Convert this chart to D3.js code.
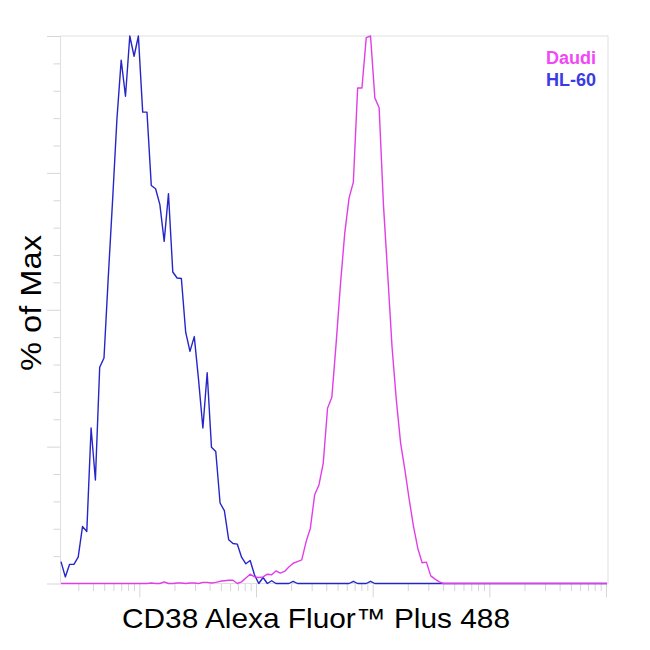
<!DOCTYPE html>
<html>
<head>
<meta charset="utf-8">
<script src="https://cdnjs.cloudflare.com/ajax/libs/d3/7.8.5/d3.min.js"></script>
<style>
  body { margin: 0; background: #fff; }
  text { font-family: "Liberation Sans", Arial, sans-serif; }
</style>
</head>
<body>
<div id="histo"></div>
<script>
// % of max per channel, 128 log-spaced channels
var hl60 = [4.0, 1.2, 3.5, 3.5, 4.8, 10.4, 9.5, 28.4, 18.9, 39.5,
            41.2, 56.0, 70.0, 84.7, 95.6, 89.0, 100, 96.3, 100, 86.1,
            86.1, 72.7, 72.1, 69.2, 62.5, 71.2, 56.9, 55.8, 55.7, 45.9,
            42.4, 45.1, 37.2, 28.4, 38.5, 24.9, 24.1, 14.7, 13.3, 8.0,
            7.3, 7.2, 4.8, 3.6, 4.2, 1.6, 0, 1.1, 0, 0.5,
            0, 0, 0, 0, 0.4, 0, 0, 0, 0, 0,
            0, 0, 0, 0, 0, 0, 0, 0, 0.4, 0,
            0, 0, 0.4, 0, 0, 0, 0, 0, 0, 0,
            0, 0, 0, 0, 0, 0, 0, 0, 0, 0,
            0, 0, 0, 0, 0, 0, 0, 0, 0, 0,
            0, 0, 0, 0, 0, 0, 0, 0, 0, 0,
            0, 0, 0, 0, 0, 0, 0, 0, 0, 0,
            0, 0, 0, 0, 0, 0, 0, 0];

var daudi = [0, 0, 0, 0, 0, 0, 0, 0, 0, 0,
             0, 0, 0, 0, 0, 0, 0, 0, 0, 0,
             0, 0.1, 0, 0, 0.3, 0, 0, 0.1, 0.1, 0,
             0.1, 0.1, 0, 0.2, 0.2, 0.1, 0.2, 0.4, 0.5, 0.6,
             0.6, 0, 0.3, 1.0, 1.7, 1.2, 1.1, 1.2, 1.7, 1.6,
             2.3, 1.9, 2.2, 3.0, 3.7, 4.0, 4.3, 7.6, 10.1, 16.2,
             18.0, 22.0, 32.0, 34.0, 43.9, 54.6, 64.0, 70.4, 73.3, 90.5,
             90.5, 99.7, 100, 88.7, 86.9, 69.2, 56.4, 43.2, 33.5, 25.6,
             20.7, 15.3, 10.4, 6.4, 3.8, 3.9, 1.4, 0.8, 0.3, 0,
             0, 0, 0, 0, 0, 0, 0, 0, 0, 0,
             0, 0, 0, 0, 0, 0, 0, 0, 0, 0,
             0, 0, 0, 0, 0, 0, 0, 0, 0, 0,
             0, 0, 0, 0, 0, 0, 0, 0];

var seriesNames = ["Daudi", "HL-60"];
var lineColors = ["#e03ee8", "#2626c8"];
var legendColors = ["#f247f5", "#3a3ae6"];

var xDomain = [21.1, 1.04e6];
var yTicks = d3.range(0, 101, 5);

var margin = {top: 36, right: 42, bottom: 66.5, left: 60.5};
var fullWidth = 650;
var fullHeight = 650;
var width = fullWidth - margin.left - margin.right;
var height = fullHeight - margin.top - margin.bottom;

var svg = d3.select("#histo").append("svg")
            .attr("width", fullWidth)
            .attr("height", fullHeight);
var g = svg.append("g").attr("transform", "translate(" + margin.left + "," + margin.top + ")");

var xScale = d3.scaleLog().domain(xDomain).range([0, width]);
var chan = d3.scaleLinear().domain([0, hl60.length - 1]).range([0.5, width - 1]);
var yScale = d3.scaleLinear().domain([0, 100]).range([height, 0]);

// log ticks 1..9 x 10^k inside the domain
var xTickVals = [];
for (var k = 1; k <= 6; k++) {
  for (var m = 1; m <= 9; m++) {
    var v = m * Math.pow(10, k);
    if (v >= xDomain[0] && v <= xDomain[1]) xTickVals.push(v);
  }
}

var xAxis = d3.axisBottom(xScale).tickValues(xTickVals).tickFormat("").tickSizeOuter(0);
var yAxis = d3.axisLeft(yScale).tickValues(yTicks).tickFormat("").tickSizeOuter(0);

var xg = g.append("g").attr("transform", "translate(0," + height + ")").call(xAxis);
xg.select(".domain").remove();
xg.selectAll(".tick line")
  .attr("stroke", "#d6d6d6")
  .attr("y2", function(d){
    var e = Math.log10(d);
    return Math.abs(e - Math.round(e)) < 1e-9 ? 14 : 7.5;
  });

var yg = g.append("g").call(yAxis);
yg.select(".domain").remove();
yg.selectAll(".tick line")
  .attr("stroke", "#d6d6d6")
  .attr("x2", function(d){ return d % 25 == 0 ? -13.5 : -7; });

// frame
g.append("rect")
  .attr("x", 0).attr("y", 0)
  .attr("width", width).attr("height", height)
  .attr("fill", "none")
  .attr("stroke", "#e0e0e0")
  .attr("stroke-width", 1);

var line = d3.line()
             .x(function(d, i){ return chan(i); })
             .y(function(d){ return yScale(d); });

g.append("path").datum(hl60)
  .attr("d", line)
  .attr("fill", "none")
  .attr("stroke", lineColors[1])
  .attr("stroke-width", 1.4)
  .attr("stroke-linejoin", "round");

g.append("path").datum(daudi)
  .attr("d", line)
  .attr("fill", "none")
  .attr("stroke", lineColors[0])
  .attr("stroke-width", 1.4)
  .attr("stroke-linejoin", "round");

// legend
svg.selectAll(".legend")
   .data(seriesNames)
   .enter()
   .append("text")
   .attr("class", "legend")
   .attr("x", 596)
   .attr("y", function(d, i){ return 64 + i * 22; })
   .attr("text-anchor", "end")
   .attr("font-size", 18)
   .attr("font-weight", "bold")
   .attr("fill", function(d, i){ return legendColors[i]; })
   .text(function(d){ return d; });

// axis titles
svg.append("text")
   .attr("x", 122)
   .attr("y", 628)
   .attr("font-size", 28)
   .attr("textLength", 388)
   .attr("lengthAdjust", "spacingAndGlyphs")
   .attr("fill", "#000")
   .text("CD38 Alexa Fluor\u2122 Plus 488");

svg.append("text")
   .attr("transform", "translate(40.5,371) rotate(-90)")
   .attr("x", 0)
   .attr("y", 0)
   .attr("font-size", 30)
   .attr("textLength", 136)
   .attr("lengthAdjust", "spacingAndGlyphs")
   .attr("fill", "#000")
   .text("% of Max");
</script>
</body>
</html>
